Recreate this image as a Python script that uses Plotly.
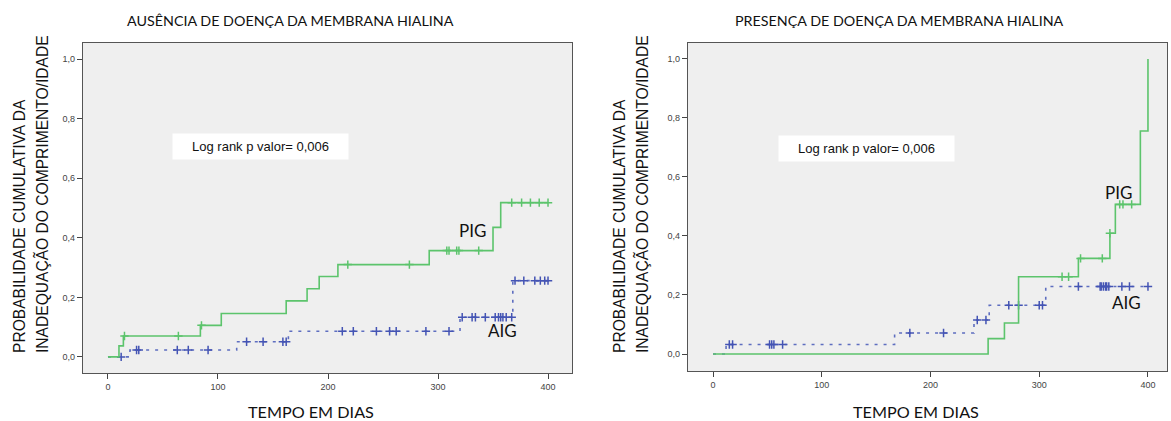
import numpy as np
import plotly.graph_objects as go

# ---------------- data ----------------
# Panel 1: ausência de doença da membrana hialina
a_pig_t = [0, 10, 14, 84, 103, 162, 181, 192, 209, 292, 350, 357]
a_pig_y = [0, 0.037, 0.070, 0.106, 0.146, 0.188, 0.229, 0.270, 0.310, 0.357, 0.435, 0.518]
a_pig_cens = [15, 64, 85, 218, 274, 308, 310, 317, 319, 337, 367, 376, 384, 392, 400]

a_aig_t = [0, 20, 117, 164, 320, 368]
a_aig_y = [0, 0.023, 0.051, 0.086, 0.133, 0.256]
a_aig_cens = [12, 26, 28, 63, 73, 91, 126, 141, 159, 162, 213, 223, 244, 256, 262, 289, 310,
              322, 331, 334, 343, 352, 355, 357, 359, 362, 367, 370, 378, 388, 393, 397, 400]

# Panel 2: presença de doença da membrana hialina
p_pig_t = [0, 253, 268, 281, 336, 365, 370, 393, 400]
p_pig_y = [0, 0.052, 0.105, 0.262, 0.324, 0.409, 0.507, 0.756, 1.0]
p_pig_cens = [321, 327, 338, 358, 365, 374, 377, 385]

p_aig_t = [0, 12, 167, 240, 254, 306]
p_aig_y = [0, 0.032, 0.071, 0.115, 0.165, 0.229]
p_aig_cens = [15, 18, 52, 54, 56, 64, 181, 212, 243, 251, 272, 281, 300, 303, 336, 356, 357,
              359, 361, 362, 364, 376, 383, 400]

titles = ["AUSÊNCIA DE DOENÇA DA MEMBRANA HIALINA", "PRESENÇA DE DOENÇA DA MEMBRANA HIALINA"]
ytitle_lines = ["PROBABILIDADE CUMULATIVA DA", "INADEQUAÇÃO DO COMPRIMENTO/IDADE"]
xtitle = "TEMPO EM DIAS"
logrank = "Log rank p valor= 0,006"
x_ticks = [0, 100, 200, 300, 400]
y_ticks = [0.0, 0.2, 0.4, 0.6, 0.8, 1.0]

GREEN = "#5CC46C"
BLUE = "#4454B4"
W, H = 1171, 421


def step_line(t, y, cens):
    end = max(max(cens), t[-1])
    xs = list(t) + ([end] if end > t[-1] else [])
    ys = list(y) + ([y[-1]] if end > t[-1] else [])
    idx = np.searchsorted(np.array(t), np.array(cens), side="right") - 1
    cy = [y[i] for i in idx]
    return xs, ys, cy


fig = go.Figure()

panels = [
    dict(xa="x", ya="y", pig=(a_pig_t, a_pig_y, a_pig_cens), aig=(a_aig_t, a_aig_y, a_aig_cens)),
    dict(xa="x2", ya="y2", pig=(p_pig_t, p_pig_y, p_pig_cens), aig=(p_aig_t, p_aig_y, p_aig_cens)),
]

for p in panels:
    for key, col, lcol, dash in [("aig", BLUE, "#5E6EC0", "3px,6px"), ("pig", GREEN, GREEN, "solid")]:
        t, y, c = p[key]
        xs, ys, cy = step_line(t, y, c)
        fig.add_trace(go.Scatter(x=xs, y=ys, mode="lines", line=dict(color=lcol, width=1.6, dash=dash, shape="hv"),
                                 xaxis=p["xa"], yaxis=p["ya"], showlegend=False, hoverinfo="skip"))
        fig.add_trace(go.Scatter(x=c, y=cy, mode="markers",
                                 marker=dict(symbol="cross-thin", size=6, line=dict(color=col, width=1.5)),
                                 xaxis=p["xa"], yaxis=p["ya"], showlegend=False, hoverinfo="skip"))

axis_common = dict(showline=True, mirror=True, linecolor="#555", linewidth=1.3, showgrid=False, zeroline=False,
                   ticks="outside", ticklen=5, tickwidth=1, tickcolor="#444",
                   tickfont=dict(family="Liberation Sans", size=9, color="#444"))

fig.update_layout(
    width=W, height=H, margin=dict(l=0, r=0, t=0, b=0),
    paper_bgcolor="white", plot_bgcolor="#EFEFEF", separators=",.",
    xaxis=dict(domain=[83 / W, 572 / W], range=[-22.7, 421.8], tickvals=x_ticks, anchor="y", **axis_common),
    yaxis=dict(domain=[48 / H, 378 / H], range=[-0.054, 1.054], tickvals=y_ticks, tickformat=".1f", anchor="x",
               **axis_common),
    xaxis2=dict(domain=[688 / W, 1167 / W], range=[-23, 417.5], tickvals=x_ticks, anchor="y2", **axis_common),
    yaxis2=dict(domain=[50 / H, 378 / H], range=[-0.0576, 1.054], tickvals=y_ticks, tickformat=".1f", anchor="x2",
                **axis_common),
)

ann = []
# titles
for cx, txt in [(290, titles[0]), (899, titles[1])]:
    ann.append(dict(x=cx / W, y=1 - 21 / H, xref="paper", yref="paper", text=txt, showarrow=False,
                    xanchor="center", yanchor="middle", font=dict(family="Lato", size=14.3, color="#111")))
# x titles
for cx in [311, 916]:
    ann.append(dict(x=cx / W, y=1 - 411 / H, xref="paper", yref="paper", text=xtitle, showarrow=False,
                    xanchor="center", yanchor="middle", font=dict(family="Lato", size=16.2, color="#111")))
# y titles
for x1, x2 in [(19, 41), (619, 641)]:
    for cx, txt in [(x1, ytitle_lines[0]), (x2, ytitle_lines[1])]:
        ann.append(dict(x=cx / W, y=1 - 355 / H, xref="paper", yref="paper", text=txt, showarrow=False,
                        textangle=-90, xanchor="center", yanchor="bottom",
                        font=dict(family="Liberation Sans", size=15.6, color="#111")))
# log rank boxes
for xr, yr, x, y in [("x", "y", 138.6, 0.706), ("x2", "y2", 141, 0.697)]:
    ann.append(dict(x=x, y=y, xref=xr, yref=yr, text=logrank, showarrow=False, bgcolor="white",
                    width=173, height=23, align="center",
                    font=dict(family="Liberation Sans", size=13, color="#111")))
# group labels
for xr, yr, x, y, txt in [("x", "y", 331.8, 0.426, "PIG"), ("x", "y", 359, 0.09, "AIG"),
                          ("x2", "y2", 373.3, 0.549, "PIG"), ("x2", "y2", 379.8, 0.173, "AIG")]:
    ann.append(dict(x=x, y=y, xref=xr, yref=yr, text=txt, showarrow=False,
                    font=dict(family="Lato", size=17, color="#111")))

fig.update_layout(annotations=ann)
fig.write_html("out.html")
